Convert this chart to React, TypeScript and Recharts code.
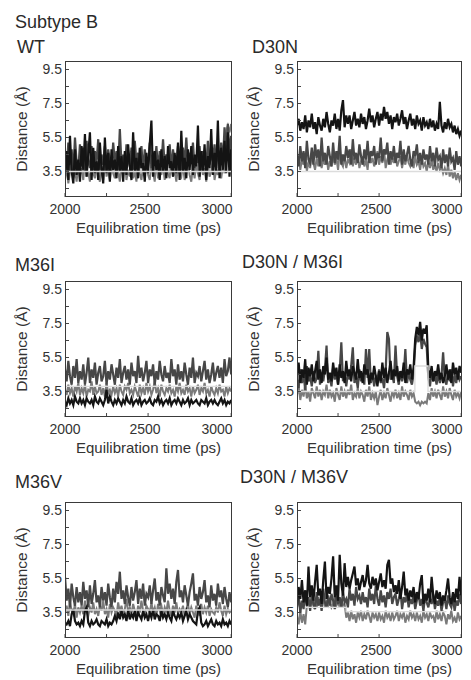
import { LineChart, Line, XAxis, YAxis } from 'recharts';

// sampling times (ps)
const times = [
  2000, 2010, 2020, 2030, 2040, 2050, 2060, 2070, 2080, 2090,
  2100, 2110, 2120, 2130, 2140, 2150, 2160, 2170, 2180, 2190,
  2200, 2210, 2220, 2230, 2240, 2250, 2260, 2270, 2280, 2290,
  2300, 2310, 2320, 2330, 2340, 2350, 2360, 2370, 2380, 2390,
  2400, 2410, 2420, 2430, 2440, 2450, 2460, 2470, 2480, 2490,
  2500, 2510, 2520, 2530, 2540, 2550, 2560, 2570, 2580, 2590,
  2600, 2610, 2620, 2630, 2640, 2650, 2660, 2670, 2680, 2690,
  2700, 2710, 2720, 2730, 2740, 2750, 2760, 2770, 2780, 2790,
  2800, 2810, 2820, 2830, 2840, 2850, 2860, 2870, 2880, 2890,
  2900, 2910, 2920, 2930, 2940, 2950, 2960, 2970, 2980, 2990,
  3000,
];

const xTicks = [2000, 2250, 2500, 2750, 3000];
const xTickLabels = ['2000', '', '2500', '', '3000'];
const yTicks = [2.5, 3.5, 4.5, 5.5, 6.5, 7.5, 8.5, 9.5];
const yTickLabels = ['', '3.5', '', '5.5', '', '7.5', '', '9.5'];

// WT
const wtBlack = [
  3.4, 4.7, 3.0, 5.6, 3.5, 2.8, 4.8, 3.3, 4.2, 2.9,
  5.0, 3.6, 5.7, 3.2, 4.5, 5.8, 3.0, 4.9, 3.4, 4.1,
  3.0, 5.2, 3.7, 2.8, 5.5, 3.4, 4.6, 2.9, 4.8, 3.6,
  4.2, 3.1, 5.0, 3.5, 4.4, 2.9, 4.7, 3.3, 5.1, 3.8,
  3.0, 5.8, 3.5, 4.3, 3.1, 4.9, 3.7, 4.0, 2.9, 4.6,
  3.4, 5.1, 6.5, 3.2, 4.7, 3.6, 4.2, 3.0, 4.8, 3.5,
  4.4, 3.1, 5.0, 3.7, 4.1, 3.2, 4.6, 3.4, 5.2, 3.0,
  5.9, 3.5, 4.3, 3.1, 4.8, 3.6, 5.0, 3.3, 4.5, 3.8,
  6.2, 3.2, 4.7, 3.5, 5.1, 3.0, 4.4, 3.7, 6.0, 3.3,
  4.6, 3.5, 6.5, 3.1, 4.9, 3.6, 5.3, 3.4, 5.8, 3.2,
  4.8,
];
const wtDark = [
  4.6, 3.5, 5.2, 3.9, 4.8, 3.4, 5.5, 4.0, 3.6, 5.1,
  3.8, 4.9, 3.5, 5.3, 4.1, 3.7, 5.0, 3.6, 4.7, 4.0,
  5.4, 3.6, 4.5, 3.9, 5.0, 3.5, 4.8, 4.1, 3.7, 5.2,
  4.0, 4.7, 3.6, 6.0, 3.9, 4.5, 3.5, 5.1, 4.2, 3.8,
  4.9, 3.6, 5.3, 4.0, 4.6, 3.7, 5.0, 3.5, 4.8, 4.1,
  3.9, 5.2, 3.7, 4.6, 4.0, 5.0, 3.6, 4.7, 3.9, 5.4,
  3.8, 4.5, 4.1, 5.1, 3.6, 4.8, 4.0, 3.7, 5.0, 4.2,
  3.6, 4.9, 3.9, 5.5, 3.8, 4.6, 4.1, 5.2, 3.7, 4.4,
  4.0, 5.0, 3.6, 4.7, 4.2, 3.8, 5.3, 3.9, 4.6, 4.1,
  5.1, 3.7, 4.8, 4.0, 5.2, 3.9, 6.1, 4.3, 6.3, 4.5,
  5.6,
];
const wtMid = [
  3.0, 3.8, 2.8, 3.5, 4.2, 3.1, 3.6, 2.9, 4.0, 3.3,
  3.7, 3.0, 4.3, 3.2, 3.5, 2.9, 3.9, 3.4, 3.1, 4.1,
  3.3, 2.9, 3.8, 3.0, 4.4, 3.2, 3.6, 3.0, 4.0, 3.4,
  3.1, 4.2, 3.5, 2.9, 3.8, 3.3, 4.1, 3.0, 3.6, 3.2,
  4.0, 3.1, 3.5, 2.9, 4.3, 3.4, 3.0, 3.8, 3.2, 4.1,
  3.3, 3.0, 3.9, 3.5, 2.9, 4.2, 3.1, 3.7, 3.3, 3.9,
  3.0, 4.0, 3.4, 3.1, 4.4, 3.2, 3.6, 2.9, 3.8, 3.4,
  3.2, 3.9, 3.0, 3.6, 4.1, 3.3, 2.9, 3.8, 3.1, 4.0,
  3.4, 3.0, 4.2, 3.3, 3.7, 2.9, 3.9, 3.2, 3.5, 4.1,
  3.0, 3.6, 3.3, 4.0, 3.1, 3.8, 3.4, 5.9, 6.2, 5.8,
  6.3,
];
const wtLightT = [2000, 3000];
const wtLightV = [3.5, 3.5];

// D30N
const d30Black = [
  6.2, 6.6, 5.9, 6.4, 6.0, 6.8, 5.8, 6.5, 6.1, 6.9,
  6.0, 6.4, 5.7, 6.7, 6.2, 5.9, 6.6, 6.1, 7.0, 6.3,
  5.8, 6.5, 6.2, 6.9, 6.0, 6.6, 5.9, 7.1, 7.7, 6.1,
  6.8, 6.3, 6.8, 6.0, 6.5, 7.0, 6.2, 6.6, 6.1, 6.9,
  6.3, 6.7, 6.0, 6.5, 7.2, 6.4, 6.8, 6.1, 6.6, 7.0,
  6.2, 6.9, 6.5, 7.3, 6.6, 7.0, 6.3, 6.8, 6.0, 6.7,
  6.4, 6.9, 6.2, 6.6, 7.1, 6.3, 6.7, 6.0, 6.5, 6.9,
  6.2, 6.6, 6.0, 6.8, 6.3, 6.5, 5.9, 6.7, 6.2, 6.4,
  6.0, 6.6, 6.1, 6.5, 5.9, 6.3, 6.0, 7.6, 6.2, 5.8,
  6.4, 6.0, 6.6, 6.1, 6.3, 5.8, 6.2, 5.7, 6.0, 5.6,
  5.9,
];
const d30Dark = [
  4.5, 3.8, 5.0, 4.1, 4.7, 3.7, 5.3, 4.2, 4.0, 4.9,
  3.9, 5.1, 4.3, 4.8, 3.8, 5.5, 4.1, 4.6, 3.9, 5.0,
  4.4, 3.8, 5.2, 4.0, 4.7, 4.2, 5.6, 3.9, 4.5, 4.1,
  5.0, 4.3, 4.8, 3.9, 5.4, 4.2, 4.6, 4.0, 5.1, 4.4,
  3.9, 4.8, 4.2, 5.3, 4.0, 4.7, 4.4, 5.0, 3.9, 4.6,
  4.3, 5.5, 4.1, 4.8, 4.5, 5.2, 3.9, 4.7, 4.2, 5.0,
  4.0, 4.6, 4.3, 5.3, 3.9, 4.8, 4.1, 4.5, 5.0, 4.2,
  3.8, 4.7, 4.4, 5.1, 4.0, 4.6, 3.9, 4.8, 4.2, 4.5,
  3.9, 5.0, 4.1, 4.6, 3.8, 4.9, 4.2, 4.4, 3.7, 4.8,
  4.0, 4.5, 3.8, 4.9, 4.1, 4.3, 3.6, 4.7, 3.9, 4.4,
  3.8,
];
const d30Mid = [
  3.8, 4.4, 3.6, 4.2, 3.9, 4.6, 3.5, 4.1, 3.7, 4.5,
  4.0, 3.6, 4.3, 3.8, 4.7, 3.7, 4.2, 3.9, 4.4, 3.6,
  4.1, 3.8, 4.5, 3.9, 4.3, 3.6, 4.6, 4.0, 3.8, 4.4,
  3.7, 4.2, 4.0, 4.8, 3.8, 4.3, 3.9, 4.5, 3.7, 4.1,
  4.4, 3.8, 4.2, 3.6, 4.6, 4.0, 4.3, 3.8, 4.1, 4.7,
  3.9, 4.4, 4.0, 4.8, 3.7, 4.2, 4.5, 3.9, 4.3, 4.0,
  4.6, 3.8, 4.1, 4.4, 3.7, 4.3, 3.9, 4.5, 4.0, 3.8,
  4.2, 3.7, 4.4, 3.9, 4.1, 3.6, 4.3, 3.8, 4.0, 3.5,
  4.1, 3.7, 4.2, 3.6, 3.9, 3.5, 4.0, 3.6, 3.8, 3.4,
  3.7, 3.3, 3.9, 3.2, 3.6, 3.1, 3.5, 3.0, 3.4, 3.0,
  3.3,
];
const d30LightT = [2000, 3000];
const d30LightV = [3.5, 3.5];

// M36I
const m36iBlack = [
  2.9, 2.7, 3.1, 2.8, 3.0, 2.7, 3.2, 2.9, 2.8, 3.1,
  2.8, 3.0, 2.7, 3.1, 2.9, 2.8, 3.0, 2.7, 3.2, 2.9,
  2.8, 3.1, 2.9, 2.7, 3.0, 3.6, 2.8, 3.2, 2.9, 2.7,
  3.0, 2.8, 3.1, 2.9, 2.7, 3.0, 2.8, 3.2, 2.9, 2.8,
  3.1, 2.7, 2.9, 3.0, 2.8, 3.1, 2.7, 2.9, 3.0, 2.8,
  2.9, 3.1, 2.8, 2.7, 3.0, 2.9, 3.2, 2.8, 3.0, 2.7,
  2.9, 3.0, 2.8, 3.1, 2.7, 2.9, 3.0, 2.8, 3.1, 2.9,
  2.7, 3.0, 2.8, 2.9, 3.1, 2.7, 3.0, 2.8, 2.9, 3.0,
  2.8, 2.7, 3.0, 2.9, 2.8, 3.1, 2.7, 2.9, 3.0, 2.8,
  3.0, 2.8, 2.7, 2.9, 3.1, 2.8, 3.0, 2.7, 2.9, 2.8,
  3.0,
];
const m36iDark = [
  4.8, 4.1, 5.3, 4.4, 3.9, 5.0, 4.3, 5.4, 4.0, 4.7,
  4.2, 5.1, 3.9, 4.6, 5.5, 4.0, 4.8, 4.3, 5.2, 3.9,
  4.6, 5.0, 4.1, 4.4, 5.3, 3.9, 4.7, 4.2, 5.1, 4.5,
  3.9, 4.9, 4.3, 5.4, 4.0, 4.6, 5.0, 4.2, 4.8, 3.9,
  5.2, 4.4, 4.7, 4.0, 5.6, 4.3, 4.9, 4.1, 4.6, 5.3,
  4.0, 4.8, 4.4, 5.1, 3.9, 4.7, 4.2, 5.3, 4.5, 4.1,
  5.0, 4.3, 4.6, 4.0, 5.4, 4.4, 4.8, 3.9, 5.1, 4.2,
  4.7, 4.1, 5.2, 4.5, 3.9, 4.9, 4.3, 5.5, 4.0, 4.6,
  4.4, 5.0, 4.1, 4.7, 5.3, 4.2, 4.8, 4.0, 4.5, 5.2,
  4.1, 4.6, 5.0, 4.3, 4.9, 4.0, 5.4, 4.4, 4.7, 5.5,
  4.5,
];
const m36iMid = [
  3.6, 3.3, 3.9, 3.4, 3.7, 3.2, 3.8, 3.5, 4.0, 3.3,
  3.7, 3.4, 3.9, 3.2, 3.6, 3.5, 4.1, 3.3, 3.8, 3.4,
  3.5, 3.9, 3.3, 3.7, 3.2, 4.0, 3.4, 3.6, 3.3, 3.8,
  3.4, 3.7, 3.2, 3.9, 3.5, 3.3, 3.8, 3.6, 4.0, 3.4,
  3.6, 3.3, 3.8, 3.5, 3.2, 3.9, 3.4, 3.7, 3.3, 4.0,
  3.5, 3.8, 3.3, 3.6, 4.1, 3.4, 3.7, 3.2, 3.9, 3.5,
  3.3, 3.7, 3.5, 3.9, 3.4, 3.6, 3.2, 3.8, 3.5, 4.0,
  3.4, 3.6, 3.3, 3.9, 3.5, 3.7, 3.2, 3.8, 3.4, 3.6,
  3.9, 3.3, 3.7, 3.5, 4.0, 3.4, 3.6, 3.2, 3.8, 3.5,
  3.3, 3.7, 3.4, 3.9, 3.5, 3.6, 3.2, 3.8, 3.4, 3.7,
  3.5,
];
const m36iLightT = [2000, 3000];
const m36iLightV = [3.8, 3.8];

// D30N / M36I
const dmiBlack = [
  4.5, 5.2, 4.0, 4.8, 4.3, 5.4, 3.9, 4.9, 4.4, 5.1,
  4.1, 4.7, 5.3, 4.2, 4.8, 4.0, 5.0, 4.5, 5.5, 4.2,
  4.6, 4.1, 5.2, 4.4, 4.9, 3.9, 5.1, 4.3, 4.7, 4.0,
  5.3, 4.4, 4.8, 4.1, 5.0, 4.6, 4.2, 5.4, 4.3, 4.7,
  4.0, 5.1, 4.5, 4.8, 3.9, 4.6, 4.2, 5.0, 4.4, 3.8,
  4.7, 4.1, 5.2, 4.3, 4.9, 4.0, 4.6, 5.3, 4.2, 4.8,
  4.4, 5.0, 4.1, 4.7, 4.3, 5.2, 4.0, 4.8, 4.5, 5.1,
  4.2, 4.9, 6.6, 7.3, 6.8, 7.6, 6.5, 7.2, 6.9, 7.4,
  4.8, 4.3, 5.0, 4.1, 4.7, 4.4, 5.1, 4.2, 4.6, 4.0,
  4.4, 5.1, 4.2, 4.8, 4.0, 5.2, 4.5, 4.9, 4.2, 5.0,
  4.6,
];
const dmiDark = [
  4.2, 3.7, 4.8, 4.0, 4.5, 3.6, 5.0, 4.1, 4.4, 3.8,
  4.7, 4.0, 4.3, 5.9, 3.9, 4.6, 4.1, 4.8, 6.2, 4.0,
  4.4, 3.8, 4.9, 4.2, 4.6, 3.9, 4.7, 6.4, 4.1, 4.5,
  3.8, 4.6, 4.2, 5.0, 6.1, 4.0, 4.4, 3.7, 4.8, 4.1,
  4.5, 3.9, 6.0, 4.3, 6.0, 4.0, 4.6, 3.8, 4.4, 4.2,
  4.8, 4.0, 4.3, 3.7, 4.7, 7.0, 6.6, 4.2, 4.5, 4.0,
  6.2, 4.4, 3.9, 4.7, 4.1, 4.5, 6.0, 4.0, 4.6, 4.2,
  3.9, 4.5, 6.2, 6.8, 6.4, 7.0, 6.0, 6.6, 6.3, 6.1,
  4.3, 3.8, 4.7, 4.1, 4.5, 3.9, 4.6, 4.0, 4.4, 5.8,
  4.2, 3.9, 4.6, 4.1, 4.8, 3.8, 4.5, 4.0, 4.7, 4.2,
  4.4,
];
const dmiMid = [
  3.3, 3.8, 3.0, 3.6, 3.2, 3.9, 3.1, 3.5, 2.9, 3.7,
  3.4, 3.1, 3.8, 3.2, 3.6, 3.0, 3.5, 3.3, 3.9, 3.1,
  3.6, 3.2, 3.4, 2.9, 3.7, 3.3, 3.0, 3.8, 3.2, 3.5,
  3.1, 3.6, 3.3, 3.9, 3.0, 3.4, 3.2, 3.7, 3.1, 3.5,
  3.3, 2.9, 3.6, 3.2, 3.8, 3.0, 3.4, 3.1, 3.5, 2.7,
  3.2, 3.6, 3.0, 3.4, 3.1, 3.7, 3.3, 2.9, 3.5, 3.2,
  3.6, 3.1, 3.4, 3.0, 3.8, 3.2, 3.5, 3.3, 3.0, 3.6,
  3.2, 3.4, 2.9, 2.8, 2.9, 2.7, 2.9, 2.8, 2.9, 2.8,
  3.4, 3.0, 3.7, 3.2, 3.5, 3.1, 3.6, 3.3, 3.0, 3.8,
  3.2, 3.5, 3.1, 3.7, 3.3, 3.0, 3.6, 3.2, 3.4, 3.1,
  3.5,
];
const dmiLightT = [2000, 2718, 2718, 2798, 2798, 3000];
const dmiLightV = [3.5, 3.5, 5.0, 5.0, 3.5, 3.5];

// M36V
const m36vBlack = [
  2.9, 2.8, 3.0, 2.7, 3.4, 3.7, 3.0, 2.8, 2.9, 2.7,
  3.0, 2.8, 3.6, 3.8, 2.9, 2.7, 3.0, 2.8, 2.9, 3.1,
  2.8, 2.7, 3.0, 2.9, 2.8, 3.1, 2.7, 2.9, 2.8, 3.0,
  3.3, 3.0, 3.5, 3.1, 3.6, 3.2, 3.4, 3.0, 3.7, 3.1,
  3.4, 3.2, 3.6, 3.0, 3.5, 3.3, 3.1, 3.6, 3.2, 3.4,
  3.0, 3.5, 3.2, 3.7, 3.1, 3.4, 3.3, 3.0, 3.6, 3.2,
  3.4, 3.1, 3.5, 3.2, 3.0, 3.6, 3.3, 3.1, 3.4, 3.2,
  3.5, 3.0, 3.3, 3.6, 3.1, 3.4, 3.2, 3.0, 2.9, 2.8,
  3.6, 3.8, 2.9, 2.7, 2.8, 3.0, 2.7, 2.9, 3.1, 2.8,
  2.7, 3.0, 2.8, 2.9, 2.7, 3.1, 2.8, 2.9, 2.7, 3.0,
  2.8,
];
const m36vDark = [
  5.6, 4.2, 4.9, 3.8, 5.2, 4.4, 3.9, 5.0, 4.1, 4.7,
  3.9, 5.3, 4.3, 4.8, 3.8, 5.1, 4.0, 4.6, 5.4, 4.1,
  4.5, 3.8, 5.0, 4.2, 4.7, 3.9, 5.2, 4.4, 3.8, 4.9,
  4.1, 5.3, 4.6, 5.9, 4.3, 4.8, 4.0, 5.1, 4.4, 3.9,
  5.0, 4.2, 4.7, 5.4, 4.0, 4.9, 4.3, 5.2, 3.9, 4.6,
  4.4, 5.1, 4.0, 4.8, 5.5, 4.2, 4.7, 3.9, 5.0, 4.5,
  4.1, 6.1, 4.6, 5.2, 4.3, 4.9, 4.0, 5.3, 6.0, 4.4,
  4.8, 4.1, 5.1, 4.5, 3.9, 4.7, 5.2, 5.8, 4.2, 4.6,
  3.9, 5.0, 4.3, 4.7, 5.4, 4.1, 4.5, 3.8, 5.1, 4.2,
  4.6, 3.9, 5.2, 4.4, 4.8, 4.0, 5.0, 4.3, 3.8, 4.7,
  4.1,
];
const m36vMid = [
  3.5, 3.9, 3.3, 4.1, 3.6, 3.4, 4.0, 3.2, 3.8, 3.5,
  3.9, 3.4, 4.2, 3.6, 3.3, 3.8, 3.5, 4.1, 3.4, 3.7,
  3.3, 3.9, 3.6, 4.2, 3.4, 3.7, 3.2, 4.0, 3.5, 3.8,
  3.6, 3.3, 4.1, 3.5, 3.9, 3.4, 3.7, 4.3, 3.5, 3.8,
  3.4, 4.0, 3.6, 3.3, 3.9, 3.5, 4.2, 3.6, 3.4, 3.9,
  3.7, 3.4, 4.1, 3.5, 3.8, 3.3, 4.0, 3.6, 3.9, 3.4,
  3.8, 3.5, 4.2, 3.6, 3.3, 3.9, 3.5, 4.1, 3.4, 3.7,
  3.5, 3.9, 3.3, 3.7, 4.0, 3.4, 3.8, 3.5, 3.2, 3.9,
  3.6, 3.3, 4.0, 3.4, 3.8, 3.5, 3.9, 3.3, 3.7, 3.5,
  3.4, 3.8, 3.5, 4.1, 3.6, 3.3, 3.9, 3.4, 3.7, 3.5,
  3.6,
];
const m36vLightT = [2000, 3000];
const m36vLightV = [3.65, 3.65];

// D30N / M36V
const dmvBlack = [
  4.0, 5.0, 4.3, 5.4, 4.1, 4.8, 3.9, 6.2, 4.4, 5.1,
  4.2, 5.3, 6.3, 4.5, 4.9, 4.0, 5.4, 6.5, 4.3, 5.0,
  4.6, 5.5, 6.8, 4.4, 5.1, 4.2, 6.9, 5.2, 4.5, 6.4,
  5.0, 5.6, 4.9, 5.4, 5.8, 6.2, 5.1, 5.5, 4.8, 5.3,
  5.7, 5.0, 5.4, 6.3, 5.2, 4.9, 5.6, 5.1, 5.5, 4.8,
  5.3, 5.8, 5.0, 5.4, 4.9, 6.3, 6.6, 5.2, 5.5, 4.7,
  5.1, 4.6, 5.4, 4.3, 5.0, 5.9, 4.5, 4.9, 4.2, 4.8,
  4.4, 5.0, 4.1, 4.7, 4.3, 5.2, 5.7, 4.0, 4.6, 4.2,
  4.9, 4.1, 5.6, 4.5, 4.0, 4.8, 4.3, 4.7, 3.9, 4.5,
  4.2, 4.8, 5.5, 4.4, 4.0, 4.7, 4.1, 4.9, 4.3, 5.6,
  4.5,
];
const dmvDark = [
  3.8, 4.5, 3.5, 4.2, 3.7, 4.8, 3.9, 4.4, 3.6, 4.6,
  4.0, 3.7, 4.7, 3.9, 4.3, 3.6, 4.9, 4.1, 3.8, 4.5,
  3.9, 4.6, 4.2, 3.7, 4.8, 4.0, 4.4, 3.8, 4.7, 4.1,
  4.3, 3.8, 4.9, 4.2, 4.6, 3.9, 5.0, 4.3, 4.5, 4.0,
  4.7, 4.1, 4.4, 3.8, 4.9, 4.2, 4.6, 4.0, 5.1, 4.3,
  3.9, 4.8, 4.1, 4.5, 3.8, 4.7, 4.3, 4.9, 4.0, 4.4,
  4.6, 3.9, 4.3, 4.8, 3.7, 4.4, 4.1, 4.6, 3.8, 4.3,
  4.0, 4.5, 3.7, 4.2, 4.6, 3.9, 4.3, 3.6, 4.4, 4.1,
  3.8, 4.3, 4.0, 4.6, 3.7, 4.2, 3.9, 4.4, 3.6, 4.1,
  4.3, 3.7, 4.5, 4.0, 3.8, 4.4, 3.6, 4.2, 3.9, 4.6,
  4.0,
];
const dmvMid = [
  3.3, 2.8, 3.6, 2.9, 3.4, 2.8, 3.9, 4.1, 3.8, 4.3,
  3.9, 4.2, 3.8, 4.4, 4.0, 3.9, 4.3, 3.8, 4.1, 3.9,
  4.2, 3.8, 4.0, 4.4, 3.9, 4.1, 3.8, 4.3, 3.9, 4.0,
  3.2, 3.5, 3.0, 3.6, 3.1, 3.4, 2.9, 3.5, 3.2, 3.6,
  3.0, 3.4, 3.1, 3.6, 3.3, 2.9, 3.5, 3.2, 3.4, 3.0,
  3.5, 3.1, 3.3, 2.9, 3.6, 3.2, 3.4, 3.0, 3.5, 3.1,
  3.3, 3.6, 3.0, 3.4, 3.2, 3.5, 2.9, 3.3, 3.1, 3.6,
  3.2, 3.4, 3.0, 3.5, 3.1, 3.3, 2.9, 3.6, 3.2, 3.4,
  3.0, 3.5, 3.2, 3.3, 2.9, 3.6, 3.1, 3.4, 3.0, 3.5,
  3.3, 2.8, 3.4, 3.1, 3.6, 3.0, 3.2, 2.9, 3.5, 3.1,
  3.3,
];
const dmvLightT = [2050, 2300, 2300, 2910];
const dmvLightV = [3.8, 3.8, 3.55, 3.55];

const toPoints = (xs: number[], ys: number[]) => xs.map((t, i) => ({ t, v: ys[i] }));

const panels = [
  { title: 'WT', black: wtBlack, dark: wtDark, mid: wtMid, lightT: wtLightT, lightV: wtLightV },
  { title: 'D30N', black: d30Black, dark: d30Dark, mid: d30Mid, lightT: d30LightT, lightV: d30LightV },
  { title: 'M36I', black: m36iBlack, dark: m36iDark, mid: m36iMid, lightT: m36iLightT, lightV: m36iLightV },
  { title: 'D30N / M36I', black: dmiBlack, dark: dmiDark, mid: dmiMid, lightT: dmiLightT, lightV: dmiLightV },
  { title: 'M36V', black: m36vBlack, dark: m36vDark, mid: m36vMid, lightT: m36vLightT, lightV: m36vLightV },
  { title: 'D30N / M36V', black: dmvBlack, dark: dmvDark, mid: dmvMid, lightT: dmvLightT, lightV: dmvLightV },
];

// layout (px)
const colLeft = [65, 297];
const colWidth = [167, 165];
const rowTop = [61, 281, 502];
const boxH = 136;
const titlePos = [
  { x: 17, y: 47 },
  { x: 252, y: 47 },
  { x: 15, y: 265 },
  { x: 242, y: 262 },
  { x: 15, y: 482 },
  { x: 240, y: 477 },
];
const YW = 44;
const XH = 34;
const font = '"Liberation Sans", Arial, Helvetica, sans-serif';

// x tick label nudges, as the original figure sets "3000" slightly left of its tick
const xLabelShift = [0, 0, -3, 0, -7];

function XTick(props: any) {
  const { x, y, payload } = props;
  const i = xTicks.indexOf(payload.value);
  const label = xTickLabels[i];
  if (!label) return null;
  return (
    <text x={x + xLabelShift[i]} y={y} dy={11} textAnchor="middle" fontSize={14} fill="#333" fontFamily={font}>
      {label}
    </text>
  );
}

function Panel({ idx }: { idx: number }) {
  const p = panels[idx];
  const col = idx % 2;
  const row = Math.floor(idx / 2);
  const left = colLeft[col];
  const top = rowTop[row];
  const w = colWidth[col];
  const tp = titlePos[idx];
  const line = (data: number[], color: string, width: number) => (
    <Line
      data={toPoints(times, data)}
      dataKey="v"
      stroke={color}
      strokeWidth={width}
      strokeLinejoin="miter"
      dot={false}
      activeDot={false}
      isAnimationActive={false}
      type="linear"
    />
  );
  return (
    <>
      <div
        style={{
          position: 'absolute',
          left: tp.x,
          top: tp.y - 9,
          fontSize: 18,
          lineHeight: '18px',
          color: '#2a2a2a',
          whiteSpace: 'nowrap',
        }}
      >
        {p.title}
      </div>
      <div style={{ position: 'absolute', left: left - YW, top }}>
        <LineChart width={YW + w + 8} height={boxH + XH} margin={{ top: 0, right: 8, bottom: 0, left: 0 }}>
          <XAxis
            dataKey="t"
            type="number"
            domain={[2000, 3005]}
            ticks={xTicks}
            tickSize={-4}
            tickMargin={10}
            axisLine={false}
            tickLine={{ stroke: '#444' }}
            tick={<XTick />}
            height={XH}
            allowDataOverflow
          />
          <XAxis
            xAxisId="top"
            orientation="top"
            type="number"
            domain={[2000, 3005]}
            ticks={xTicks}
            tickFormatter={() => ''}
            tickSize={-4}
            axisLine={false}
            tickLine={{ stroke: '#444' }}
            height={0}
            allowDataOverflow
          />
          <YAxis
            type="number"
            domain={[2, 10]}
            ticks={yTicks}
            tickFormatter={(v: number) => yTickLabels[yTicks.indexOf(v)]}
            tickSize={-4}
            tickMargin={7}
            axisLine={false}
            tickLine={{ stroke: '#444' }}
            tick={{ fontSize: 14, fill: '#333', fontFamily: font }}
            width={YW}
            allowDataOverflow
          />
          <YAxis
            yAxisId="right"
            orientation="right"
            type="number"
            domain={[2, 10]}
            ticks={yTicks}
            tickFormatter={() => ''}
            tickSize={-4}
            axisLine={false}
            tickLine={{ stroke: '#444' }}
            width={0}
            allowDataOverflow
          />
          {line(p.mid, '#7a7a7a', 2)}
          {line(p.dark, '#474747', 2.2)}
          {line(p.black, '#141414', 2.2)}
          <Line
            data={toPoints(p.lightT, p.lightV)}
            dataKey="v"
            stroke="#dcdcdc"
            strokeWidth={1.4}
            dot={false}
            activeDot={false}
            isAnimationActive={false}
            type="linear"
          />
        </LineChart>
      </div>
      <div
        style={{
          position: 'absolute',
          left,
          top,
          width: w,
          height: boxH,
          border: '1px solid #3a3a3a',
          boxSizing: 'border-box',
          pointerEvents: 'none',
        }}
      />
      <div
        style={{
          position: 'absolute',
          left: left - 60,
          width: w + 120,
          top: top + boxH + 23,
          textAlign: 'center',
          fontSize: 15,
          lineHeight: '15px',
          color: '#333',
        }}
      >
        Equilibration time (ps)
      </div>
      <div
        style={{
          position: 'absolute',
          left: left - 43 - 60,
          top: top + boxH / 2 - 8,
          width: 120,
          textAlign: 'center',
          fontSize: 15.5,
          lineHeight: '16px',
          color: '#333',
          transform: 'rotate(-90deg)',
          whiteSpace: 'nowrap',
        }}
      >
        Distance (Å)
      </div>
    </>
  );
}

export default function App() {
  return (
    <div
      style={{
        position: 'absolute',
        left: 0,
        top: 0,
        width: 471,
        height: 680,
        background: '#fff',
        overflow: 'hidden',
        fontFamily: font,
      }}
    >
      <div
        style={{
          position: 'absolute',
          left: 15,
          top: 22 - 9,
          fontSize: 18,
          lineHeight: '18px',
          color: '#2a2a2a',
        }}
      >
        Subtype B
      </div>
      {panels.map((_, i) => (
        <Panel key={i} idx={i} />
      ))}
    </div>
  );
}
